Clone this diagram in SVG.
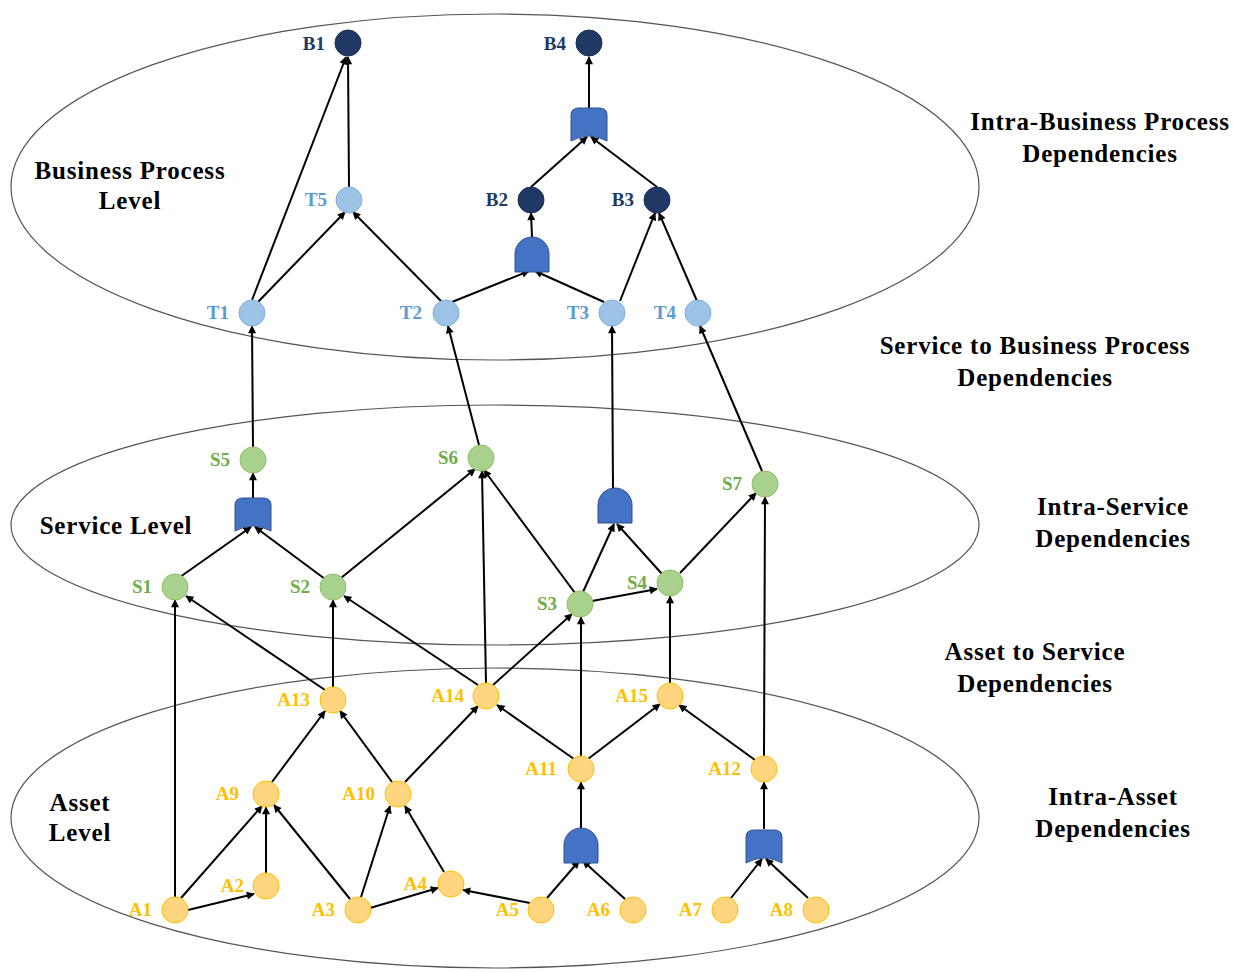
<svg xmlns="http://www.w3.org/2000/svg" width="1233" height="972" viewBox="0 0 1233 972">
  <style>
    .level { fill: none; stroke: #555; stroke-width: 1.2; }
    .title { font-family: "Liberation Serif", "Times New Roman", serif; font-weight: bold; font-size: 25px; letter-spacing: 0.8px; fill: #000; }
    .lbl { font-family: "Liberation Serif", "Times New Roman", serif; font-weight: bold; font-size: 19px; text-anchor: end; }
    .b circle { fill: #203864; stroke: #1a2f55; stroke-width: 1; }
    .b text { fill: #203864; }
    .t circle { fill: #9dc3e6; stroke: #7fb0e0; stroke-width: 1; }
    .t text { fill: #5b9bd5; }
    .s circle { fill: #a9d18e; stroke: #8cc063; stroke-width: 1; }
    .s text { fill: #70ad47; }
    .a circle { fill: #ffd67f; stroke: #ffc000; stroke-width: 1; }
    .a text { fill: #ffc000; }
    .gate { fill: #4472c4; stroke: #2f528f; stroke-width: 1; }
    #edges line { stroke: #000; stroke-width: 2; marker-end: url(#arr); }
  </style>
  <defs>
    <marker id="arr" viewBox="0 0 10 10" refX="9" refY="5" markerWidth="9" markerHeight="8" markerUnits="userSpaceOnUse" orient="auto">
      <path d="M0,0 L10,5 L0,10 Z" fill="#000"/>
    </marker>
    <!-- AND gate, origin at bottom centre -->
    <path id="andg" class="gate" d="M-17,0 V-18 A17,17 0 0 1 17,-18 V0 Z"/>
    <!-- OR gate, origin at bottom centre (outer corners) -->
    <path id="org" class="gate" d="M-18,0 V-26 Q-18,-33 -10,-33 H10 Q18,-33 18,-26 V0 Q0,-10 -18,0 Z"/>
  </defs>

  <rect width="1233" height="972" fill="#fff"/>

  <!-- level ellipses -->
  <g id="levels">
    <ellipse class="level" cx="495" cy="187" rx="484" ry="173"/>
    <ellipse class="level" cx="495" cy="525" rx="484" ry="120"/>
    <ellipse class="level" cx="495" cy="818" rx="484" ry="150"/>
  </g>

  <!-- level titles -->
  <g id="titles" class="title">
    <text x="130" y="179" text-anchor="middle">Business Process</text>
    <text x="130" y="209" text-anchor="middle">Level</text>
    <text x="116" y="534" text-anchor="middle">Service Level</text>
    <text x="80" y="811" text-anchor="middle">Asset</text>
    <text x="80" y="841" text-anchor="middle">Level</text>
    <text x="1100" y="130" text-anchor="middle">Intra-Business Process</text>
    <text x="1100" y="162" text-anchor="middle">Dependencies</text>
    <text x="1035" y="354" text-anchor="middle">Service to Business Process</text>
    <text x="1035" y="386" text-anchor="middle">Dependencies</text>
    <text x="1113" y="515" text-anchor="middle">Intra-Service</text>
    <text x="1113" y="547" text-anchor="middle">Dependencies</text>
    <text x="1035" y="660" text-anchor="middle">Asset to Service</text>
    <text x="1035" y="692" text-anchor="middle">Dependencies</text>
    <text x="1113" y="805" text-anchor="middle">Intra-Asset</text>
    <text x="1113" y="837" text-anchor="middle">Dependencies</text>
  </g>

  <!-- connectors -->
  <g id="edges">
    <line x1="252" y1="300" x2="346" y2="57"/>
    <line x1="349" y1="187" x2="348" y2="57"/>
    <line x1="258" y1="302" x2="345" y2="212"/>
    <line x1="442" y1="302" x2="353" y2="212"/>
    <line x1="452" y1="302" x2="529" y2="271"/>
    <line x1="604" y1="302" x2="535" y2="271"/>
    <line x1="532" y1="237" x2="531" y2="213"/>
    <line x1="620" y1="301" x2="655" y2="213"/>
    <line x1="697" y1="301" x2="659" y2="213"/>
    <line x1="531" y1="187" x2="587" y2="137"/>
    <line x1="657" y1="187" x2="591" y2="137"/>
    <line x1="589" y1="108" x2="589" y2="57"/>
    <line x1="253" y1="447" x2="252" y2="326"/>
    <line x1="479" y1="445" x2="448" y2="326"/>
    <line x1="613" y1="490" x2="612" y2="326"/>
    <line x1="762" y1="471" x2="700" y2="326"/>
    <line x1="253" y1="498" x2="253" y2="473"/>
    <line x1="180" y1="577" x2="251" y2="527"/>
    <line x1="325" y1="579" x2="255" y2="527"/>
    <line x1="341" y1="578" x2="475" y2="469"/>
    <line x1="575" y1="593" x2="484" y2="470"/>
    <line x1="583" y1="592" x2="614" y2="524"/>
    <line x1="662" y1="574" x2="617" y2="524"/>
    <line x1="592" y1="601" x2="657" y2="589"/>
    <line x1="680" y1="573" x2="756" y2="493"/>
    <line x1="175" y1="897" x2="175" y2="600"/>
    <line x1="325" y1="690" x2="186" y2="596"/>
    <line x1="333" y1="687" x2="333" y2="600"/>
    <line x1="478" y1="685" x2="344" y2="596"/>
    <line x1="486" y1="683" x2="482" y2="471"/>
    <line x1="493" y1="685" x2="572" y2="614"/>
    <line x1="581" y1="756" x2="581" y2="617"/>
    <line x1="670" y1="683" x2="670" y2="596"/>
    <line x1="764" y1="756" x2="765" y2="497"/>
    <line x1="574" y1="759" x2="497" y2="705"/>
    <line x1="588" y1="759" x2="660" y2="704"/>
    <line x1="755" y1="760" x2="679" y2="705"/>
    <line x1="272" y1="782" x2="325" y2="711"/>
    <line x1="392" y1="782" x2="340" y2="711"/>
    <line x1="405" y1="782" x2="478" y2="706"/>
    <line x1="181" y1="898" x2="262" y2="806"/>
    <line x1="188" y1="910" x2="254" y2="894"/>
    <line x1="266" y1="873" x2="266" y2="807"/>
    <line x1="350" y1="899" x2="274" y2="805"/>
    <line x1="361" y1="897" x2="390" y2="806"/>
    <line x1="370" y1="908" x2="438" y2="888"/>
    <line x1="444" y1="872" x2="405" y2="806"/>
    <line x1="530" y1="903" x2="463" y2="890"/>
    <line x1="547" y1="898" x2="579" y2="861"/>
    <line x1="625" y1="899" x2="583" y2="861"/>
    <line x1="581" y1="828" x2="581" y2="782"/>
    <line x1="731" y1="898" x2="762" y2="859"/>
    <line x1="808" y1="898" x2="766" y2="859"/>
    <line x1="764" y1="829" x2="764" y2="782"/>
  </g>

  <!-- logic gates -->
  <g id="gate-or-b4"><use href="#org" x="589" y="141"/></g>
  <g id="gate-and-b2"><use href="#andg" x="532" y="272"/></g>
  <g id="gate-or-s5"><use href="#org" x="253" y="531"/></g>
  <g id="gate-and-t3"><use href="#andg" x="615" y="523"/></g>
  <g id="gate-and-a11"><use href="#andg" x="581" y="863"/></g>
  <g id="gate-or-a12"><use href="#org" x="764" y="863"/></g>

  <!-- business process nodes -->
  <g id="B1" class="b"><circle cx="348" cy="43" r="13"/><text class="lbl" x="325" y="50">B1</text></g>
  <g id="B4" class="b"><circle cx="589" cy="43" r="13"/><text class="lbl" x="566" y="50">B4</text></g>
  <g id="B2" class="b"><circle cx="531" cy="200" r="13"/><text class="lbl" x="508" y="206">B2</text></g>
  <g id="B3" class="b"><circle cx="657" cy="200" r="13"/><text class="lbl" x="634" y="206">B3</text></g>
  <g id="T5" class="t"><circle cx="349" cy="200" r="13"/><text class="lbl" x="327" y="206">T5</text></g>
  <g id="T1" class="t"><circle cx="252" cy="313" r="13"/><text class="lbl" x="229" y="319">T1</text></g>
  <g id="T2" class="t"><circle cx="446" cy="313" r="13"/><text class="lbl" x="422" y="319">T2</text></g>
  <g id="T3" class="t"><circle cx="612" cy="313" r="13"/><text class="lbl" x="589" y="319">T3</text></g>
  <g id="T4" class="t"><circle cx="698" cy="313" r="13"/><text class="lbl" x="676" y="319">T4</text></g>

  <!-- service nodes -->
  <g id="S5" class="s"><circle cx="253" cy="460" r="13"/><text class="lbl" x="230" y="466">S5</text></g>
  <g id="S6" class="s"><circle cx="481" cy="458" r="13"/><text class="lbl" x="458" y="464">S6</text></g>
  <g id="S7" class="s"><circle cx="765" cy="484" r="13"/><text class="lbl" x="742" y="490">S7</text></g>
  <g id="S1" class="s"><circle cx="175" cy="587" r="13"/><text class="lbl" x="152" y="593">S1</text></g>
  <g id="S2" class="s"><circle cx="333" cy="587" r="13"/><text class="lbl" x="310" y="593">S2</text></g>
  <g id="S3" class="s"><circle cx="580" cy="604" r="13"/><text class="lbl" x="557" y="610">S3</text></g>
  <g id="S4" class="s"><circle cx="670" cy="583" r="13"/><text class="lbl" x="647" y="589">S4</text></g>

  <!-- asset nodes -->
  <g id="A13" class="a"><circle cx="333" cy="700" r="13"/><text class="lbl" x="310" y="706">A13</text></g>
  <g id="A14" class="a"><circle cx="486" cy="696" r="13"/><text class="lbl" x="464" y="702">A14</text></g>
  <g id="A15" class="a"><circle cx="670" cy="696" r="13"/><text class="lbl" x="648" y="702">A15</text></g>
  <g id="A11" class="a"><circle cx="581" cy="769" r="13"/><text class="lbl" x="557" y="775">A11</text></g>
  <g id="A12" class="a"><circle cx="764" cy="769" r="13"/><text class="lbl" x="741" y="775">A12</text></g>
  <g id="A9" class="a"><circle cx="266" cy="794" r="13"/><text class="lbl" x="239" y="800">A9</text></g>
  <g id="A10" class="a"><circle cx="398" cy="794" r="13"/><text class="lbl" x="375" y="800">A10</text></g>
  <g id="A1" class="a"><circle cx="175" cy="910" r="13"/><text class="lbl" x="152" y="916">A1</text></g>
  <g id="A2" class="a"><circle cx="266" cy="886" r="13"/><text class="lbl" x="244" y="892">A2</text></g>
  <g id="A3" class="a"><circle cx="358" cy="910" r="13"/><text class="lbl" x="335" y="916">A3</text></g>
  <g id="A4" class="a"><circle cx="451" cy="884" r="13"/><text class="lbl" x="427" y="890">A4</text></g>
  <g id="A5" class="a"><circle cx="541" cy="910" r="13"/><text class="lbl" x="519" y="916">A5</text></g>
  <g id="A6" class="a"><circle cx="633" cy="910" r="13"/><text class="lbl" x="610" y="916">A6</text></g>
  <g id="A7" class="a"><circle cx="725" cy="910" r="13"/><text class="lbl" x="702" y="916">A7</text></g>
  <g id="A8" class="a"><circle cx="816" cy="910" r="13"/><text class="lbl" x="793" y="916">A8</text></g>
</svg>
